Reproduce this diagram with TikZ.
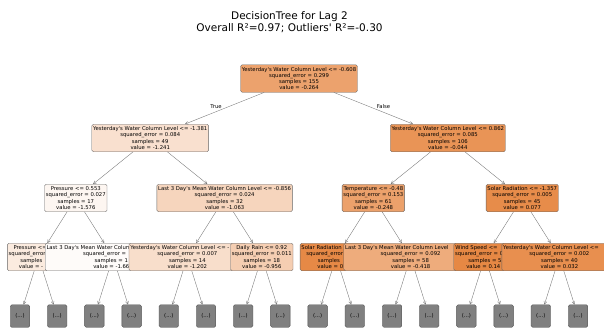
\documentclass[tikz,border=0pt]{standalone}
\usepackage{fontspec}
\setmainfont{DejaVu Sans}
\usetikzlibrary{arrows.meta}
\newcommand\ap{\textquotesingle}
\definecolor{c0}{RGB}{236,162,109}
\definecolor{cL}{RGB}{249,224,207}
\definecolor{cR}{RGB}{233,148,86}
\definecolor{cLL}{RGB}{253,246,241}
\definecolor{cLR}{RGB}{246,213,189}
\definecolor{cRL}{RGB}{236,161,107}
\definecolor{cRR}{RGB}{231,140,74}
\definecolor{c3a}{RGB}{251,235,223}
\definecolor{c3b}{RGB}{254,251,249}
\definecolor{c3c}{RGB}{248,222,203}
\definecolor{c3d}{RGB}{245,206,178}
\definecolor{c3e}{RGB}{230,137,70}
\definecolor{c3f}{RGB}{238,172,124}
\definecolor{c3g}{RGB}{230,136,68}
\definecolor{c3h}{RGB}{232,143,79}
\definecolor{leafgray}{RGB}{128,128,128}
\tikzset{
  tn/.style={draw=black!60, line width=0.35pt, rounded corners=1.5pt, align=center,
    font=\fontsize{5.3}{6.3}\selectfont, inner xsep=1.3pt, inner ysep=0.5pt, minimum height=27.5pt},
  leafbox/.style={draw=black!70, line width=0.35pt, fill=leafgray, rounded corners=1.5pt,
    minimum width=19.5pt, minimum height=22.5pt, inner sep=0pt, font=\fontsize{5.3}{6.3}\selectfont},
  edge/.style={draw=black!55, line width=0.35pt, -{Straight Barb[length=3pt,width=3pt]}},
  lbl/.style={font=\fontsize{5.3}{6.3}\selectfont, inner sep=0pt},
  ttl/.style={font=\fontsize{10.5}{12}\selectfont, align=center, inner sep=0pt}
}
\begin{document}
\begin{tikzpicture}[x=1pt,y=-1pt]
\clip (0,0) rectangle (604,329);
\fill[white] (0,0) rectangle (604,329);
\node[ttl] (title) at (289.5,22) {DecisionTree for Lag 2\\Overall R²=0.97; Outliers\ap{} R²=-0.30};
% root
\node[tn, fill=c0] (r) at (299,78.5) {Yesterday\ap s Water Column Level <= -0.608\\squared\_error = 0.299\\samples = 155\\value = -0.264};
% left subtree
\node[tn, fill=cL] (L) at (150.2,138) {Yesterday\ap s Water Column Level <= -1.381\\squared\_error = 0.084\\samples = 49\\value = -1.241};
\draw[edge] (r) -- (L);
\node[tn, fill=cLL] (LL) at (75.8,198) {Pressure <= 0.553\\squared\_error = 0.027\\samples = 17\\value = -1.576};
\draw[edge] (L) -- (LL);
\node[tn, fill=c3a] (a) at (38.6,257) {Pressure <= \phantom{0.000}\\squared\_error\phantom{ = 0.000}\\samples\phantom{ = 00}\\value = -\phantom{1.000}};
\draw[edge] (LL) -- (a);
\node[leafbox] (l0) at (20,316) {(...)};
\draw[edge] (a) -- (l0);
\node[leafbox] (l1) at (57.2,316) {(...)};
\draw[edge] (a) -- (l1);
\node[tn, fill=c3b] (b) at (113,257) {Last 3 Day\ap s Mean Water Colum\phantom{n Level <= -0.000}\\squared\_error =\phantom{ 0.000}\\samples = 1\phantom{0}\\value = -1.66\phantom{0}};
\draw[edge] (LL) -- (b);
\node[leafbox] (l2) at (94.4,316) {(...)};
\draw[edge] (b) -- (l2);
\node[leafbox] (l3) at (131.6,316) {(...)};
\draw[edge] (b) -- (l3);
\node[tn, fill=cLR] (LR) at (224.6,198) {Last 3 Day\ap s Mean Water Column Level <= -0.856\\squared\_error = 0.024\\samples = 32\\value = -1.063};
\draw[edge] (L) -- (LR);
\node[tn, fill=c3c] (c) at (187.4,257) {Yesterday\ap s Water Column Level <= -\phantom{0.000}\\squared\_error = 0.007\\samples = 14\\value = -1.202};
\draw[edge] (LR) -- (c);
\node[leafbox] (l4) at (168.8,316) {(...)};
\draw[edge] (c) -- (l4);
\node[leafbox] (l5) at (206,316) {(...)};
\draw[edge] (c) -- (l5);
\node[tn, fill=c3d] (d) at (261.8,257) {Daily Rain <= 0.92\\squared\_error = 0.011\\samples = 18\\value = -0.956};
\draw[edge] (LR) -- (d);
\node[leafbox] (l6) at (243.2,316) {(...)};
\draw[edge] (d) -- (l6);
\node[leafbox] (l7) at (280.4,316) {(...)};
\draw[edge] (d) -- (l7);
% right subtree
\node[tn, fill=cR] (R) at (447.8,138) {Yesterday\ap s Water Column Level <= 0.862\\squared\_error = 0.085\\samples = 106\\value = -0.044};
\draw[edge] (r) -- (R);
\node[tn, fill=cRL] (RL) at (373.4,198) {Temperature <= -0.48\\squared\_error = 0.153\\samples = 61\\value = -0.248};
\draw[edge] (R) -- (RL);
\node[tn, fill=c3e] (e) at (336.2,257) {Solar Radiation \phantom{<= -0.000}\\squared\_error\phantom{ = 0.000}\\samples\phantom{ = 00}\\value = 0\phantom{.000}};
\draw[edge] (RL) -- (e);
\node[leafbox] (l8) at (317.6,316) {(...)};
\draw[edge] (e) -- (l8);
\node[leafbox] (l9) at (354.8,316) {(...)};
\draw[edge] (e) -- (l9);
\node[tn, fill=c3f] (f) at (410.6,257) {Last 3 Day\ap s Mean Water Column Level\phantom{ <= 0.000}\\squared\_error = 0.092\\samples = 58\\value = -0.418};
\draw[edge] (RL) -- (f);
\node[leafbox] (l10) at (392,316) {(...)};
\draw[edge] (f) -- (l10);
\node[leafbox] (l11) at (429.2,316) {(...)};
\draw[edge] (f) -- (l11);
\node[tn, fill=cRR] (RR) at (522.2,198) {Solar Radiation <= -1.357\\squared\_error = 0.005\\samples = 45\\value = 0.077};
\draw[edge] (R) -- (RR);
\node[tn, fill=c3g] (g) at (485,257) {Wind Speed <=\phantom{ 0.000}\\squared\_error = 0\phantom{.000}\\samples = 5\\value = 0.14\phantom{3}};
\draw[edge] (RR) -- (g);
\node[leafbox] (l12) at (466.4,316) {(...)};
\draw[edge] (g) -- (l12);
\node[leafbox] (l13) at (503.6,316) {(...)};
\draw[edge] (g) -- (l13);
\node[tn, fill=c3h] (h) at (559.4,257) {Yesterday\ap s Water Column Level <=\phantom{ 0.000}\\squared\_error = 0.002\\samples = 40\\value = 0.032};
\draw[edge] (RR) -- (h);
\node[leafbox] (l14) at (540.8,316) {(...)};
\draw[edge] (h) -- (l14);
\node[leafbox] (l15) at (578,316) {(...)};
\draw[edge] (h) -- (l15);
% edge labels
\node[lbl, fill=white, inner sep=0.5pt] (tlab) at (216,106.5) {True};
\node[lbl, fill=white, inner sep=0.5pt] (flab) at (383.5,106.5) {False};
\end{tikzpicture}
\end{document}
